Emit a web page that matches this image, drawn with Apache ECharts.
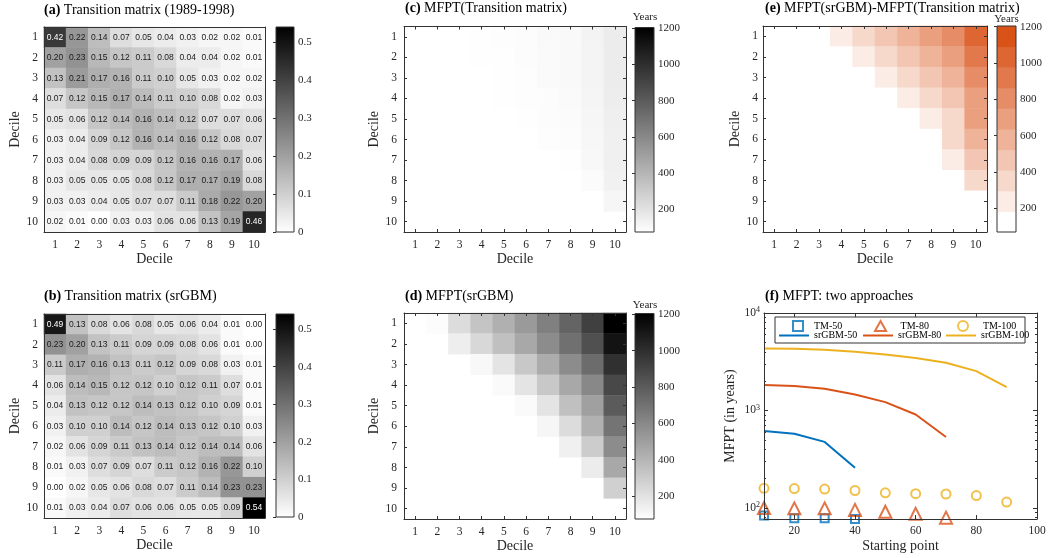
<!DOCTYPE html>
<html><head><meta charset="utf-8">
<script src="https://cdn.jsdelivr.net/npm/echarts@6/dist/echarts.min.js"></script>
<style>html,body{margin:0;padding:0;background:#fff}#c{width:1050px;height:558px}</style>
</head><body><div id="c"></div>
<script>
// ---------------- DATA ----------------
const deciles = ['1','2','3','4','5','6','7','8','9','10'];

// (a) Transition matrix (1989-1998): rows = from decile, cols = to decile
const tmHistorical = [
  [0.42,0.22,0.14,0.07,0.05,0.04,0.03,0.02,0.02,0.01],
  [0.20,0.23,0.15,0.12,0.11,0.08,0.04,0.04,0.02,0.01],
  [0.13,0.21,0.17,0.16,0.11,0.10,0.05,0.03,0.02,0.02],
  [0.07,0.12,0.15,0.17,0.14,0.11,0.10,0.08,0.02,0.03],
  [0.05,0.06,0.12,0.14,0.16,0.14,0.12,0.07,0.07,0.06],
  [0.03,0.04,0.09,0.12,0.16,0.14,0.16,0.12,0.08,0.07],
  [0.03,0.04,0.08,0.09,0.09,0.12,0.16,0.16,0.17,0.06],
  [0.03,0.05,0.05,0.05,0.08,0.12,0.17,0.17,0.19,0.08],
  [0.03,0.03,0.04,0.05,0.07,0.07,0.11,0.18,0.22,0.20],
  [0.02,0.01,0.00,0.03,0.03,0.06,0.06,0.13,0.19,0.46]
];
// (b) Transition matrix (srGBM)
const tmSrgbm = [
  [0.49,0.13,0.08,0.06,0.08,0.05,0.06,0.04,0.01,0.00],
  [0.23,0.20,0.13,0.11,0.09,0.09,0.08,0.06,0.01,0.00],
  [0.11,0.17,0.16,0.13,0.11,0.12,0.09,0.08,0.03,0.01],
  [0.06,0.14,0.15,0.12,0.12,0.10,0.12,0.11,0.07,0.01],
  [0.04,0.13,0.12,0.12,0.14,0.13,0.12,0.10,0.09,0.01],
  [0.03,0.10,0.10,0.14,0.12,0.14,0.13,0.12,0.10,0.03],
  [0.02,0.06,0.09,0.11,0.13,0.14,0.12,0.14,0.14,0.06],
  [0.01,0.03,0.07,0.09,0.07,0.11,0.12,0.16,0.22,0.10],
  [0.00,0.02,0.05,0.06,0.08,0.07,0.11,0.14,0.23,0.23],
  [0.01,0.03,0.04,0.07,0.06,0.06,0.05,0.05,0.09,0.54]
];
const _ = null;
// (c) MFPT (transition matrix), years
const mfptTM = [
  [_,74,75,77,83.5,88,98,100,125,159],
  [_,_,74,76,78.5,86,97,99,124,158],
  [_,_,_,75,78.5,84,96,99,122,156],
  [_,_,_,_,77,82,88,95.5,118,151],
  [_,_,_,_,_,78,85,91.5,114,143],
  [_,_,_,_,_,_,80,87,110,140],
  [_,_,_,_,_,_,_,79.5,106,139],
  [_,_,_,_,_,_,_,_,90,134],
  [_,_,_,_,_,_,_,_,_,115],
  [_,_,_,_,_,_,_,_,_,_]
];
// (d) MFPT (srGBM), years
const mfptSrgbm = [
  [_,85,228,335,424,521,637,761,921,1205],
  [_,_,148,246,353,459,584,708,850,1120],
  [_,_,_,104,193,317,441,584,725,992],
  [_,_,_,_,95,193,317,459,601,885],
  [_,_,_,_,_,95,193,353,495,800],
  [_,_,_,_,_,_,113,228,420,690],
  [_,_,_,_,_,_,_,140,300,584],
  [_,_,_,_,_,_,_,_,157,459],
  [_,_,_,_,_,_,_,_,_,282],
  [_,_,_,_,_,_,_,_,_,_]
];
// (e) MFPT(srGBM) - MFPT(TM), years
const mfptDiff = [
  [_,11,153,258,341,433,539,661,796,1046],
  [_,_,74,170,275,373,487,609,726,962],
  [_,_,_,29,115,233,345,485,603,836],
  [_,_,_,_,18,111,229,364,483,734],
  [_,_,_,_,_,17,108,262,381,657],
  [_,_,_,_,_,_,33,141,310,550],
  [_,_,_,_,_,_,_,61,194,445],
  [_,_,_,_,_,_,_,_,67,325],
  [_,_,_,_,_,_,_,_,_,167],
  [_,_,_,_,_,_,_,_,_,_]
];
// (f) MFPT: two approaches
const startPoints = [10,20,30,40,50,60,70,80,90];
const tm50  = [83.5,78.5,78.5,77];
const tm80  = [100,99,99,95.5,91.5,87,79.5];
const tm100 = [159,158,156,151,143,140,139,134,115];
const sr50  = [614,576,476,258];
const sr80  = [1820,1778,1670,1459,1218,909,535];
const sr100 = [4335,4305,4200,4005,3762,3450,3091,2535,1738];

// colour scale limits and tick labels
const probRange = [0, 0.54];
const probTicks = [0,0.1,0.2,0.3,0.4,0.5];
const yearRange = [73, 1205];
const diffRange = [70, 1204];
const diffBands = 10;
const yearTicks = [200,400,600,800,1000,1200];
const startTicks = [20,40,60,80,100];
const startRange = [10, 100];
const mfptRange = [77, 10000];
const logMajor = [100,1000,10000];
const logMinor = [80,90,200,300,400,500,600,700,800,900,2000,3000,4000,5000,6000,7000,8000,9000];

// ---------------- STYLE / BUILD ----------------
const SERIF = '"Liberation Serif","Times New Roman",serif';
const SANS = '"Liberation Sans",Arial,sans-serif';
const AX = '#333333';
const TXT = '#262626';
const lineStyle = {color: AX, width: 1};
const grids = [], xAxes = [], yAxes = [], series = [], titles = [], graphics = [];

function addGrid(b){ grids.push(Object.assign({}, b)); return grids.length - 1; }

function heatPanel(box, matrix, o){
  const gi = addGrid(box);
  const tick = {show: o.ticks, inside: true, alignWithLabel: true, length: 3, lineStyle};
  const xi = xAxes.length;
  xAxes.push({type:'category', gridIndex:gi, data:deciles, position:'bottom', z:10,
    axisLine:{show:true,onZero:false,lineStyle}, axisTick:tick, splitLine:{show:false},
    axisLabel:{interval:0, margin:7, color:TXT, fontFamily:SERIF, fontSize:11.5},
    name:'Decile', nameLocation:'middle', nameGap:o.xNameGap,
    nameTextStyle:{fontFamily:SERIF, fontSize:14, color:TXT}});
  xAxes.push({type:'category', gridIndex:gi, data:deciles, position:'top', z:10,
    axisLine:{show:true,onZero:false,lineStyle}, axisTick:tick, axisLabel:{show:false}, splitLine:{show:false}});
  const yi = yAxes.length;
  yAxes.push({type:'category', gridIndex:gi, data:deciles, inverse:true, position:'left', z:10,
    axisLine:{show:true,onZero:false,lineStyle}, axisTick:tick, splitLine:{show:false},
    axisLabel:{interval:0, margin:o.yMargin, color:TXT, fontFamily:SERIF, fontSize:11.5},
    name:'Decile', nameLocation:'middle', nameGap:o.yNameGap,
    nameTextStyle:{fontFamily:SERIF, fontSize:14, color:TXT}});
  yAxes.push({type:'category', gridIndex:gi, data:deciles, inverse:true, position:'right', z:10,
    axisLine:{show:true,onZero:false,lineStyle}, axisTick:tick, axisLabel:{show:false}, splitLine:{show:false}});
  const data = [];
  matrix.forEach((row, r) => row.forEach((v, c) => {
    if (v === null) return;
    const it = {value:[c, r, v]};
    if (o.labels) it.label = {color: v > 0.3 ? '#ffffff' : '#1a1a1a'};
    data.push(it);
  }));
  series.push({type:'heatmap', xAxisIndex:xi, yAxisIndex:yi, data, emphasis:{disabled:true},
    itemStyle:{borderWidth:0},
    label: o.labels ? {show:true, formatter:p => p.value[2].toFixed(2), fontFamily:SANS, fontSize:8.5} : {show:false}});
  return series.length - 1;
}

function colorbarAxes(box, lo, hi, ticks, fmt){
  const gi = addGrid(box);
  const xi = xAxes.length;
  xAxes.push({type:'value', gridIndex:gi, min:0, max:1, show:false});
  const yi = yAxes.length;
  yAxes.push({type:'value', gridIndex:gi, min:lo, max:hi, position:'right', z:10,
    axisLine:{show:false}, splitLine:{show:false},
    axisTick:{show:true, inside:true, length:3, customValues:ticks, lineStyle},
    axisLabel:{customValues:ticks, formatter:fmt, margin:4, color:TXT, fontFamily:SERIF, fontSize:11}});
  return [xi, yi];
}

function grayBar(box, range, ticks, fmt){
  const [xi, yi] = colorbarAxes(box, range[0], range[1], ticks, fmt);
  series.push({type:'custom', xAxisIndex:xi, yAxisIndex:yi, silent:true, clip:false,
    data:[[0, range[0], 1, range[1]]], encode:{x:[0,2], y:[1,3]},
    renderItem(params, api){
      const a = api.coord([api.value(0), api.value(1)]);
      const b = api.coord([api.value(2), api.value(3)]);
      return {type:'rect', shape:{x:a[0], y:b[1], width:b[0]-a[0], height:a[1]-b[1]},
        style:{fill:new echarts.graphic.LinearGradient(0,0,0,1,[{offset:0,color:'#000000'},{offset:1,color:'#ffffff'}]),
               stroke:AX, lineWidth:1}};
    }});
}

function mix(c1, c2, t){
  const p = s => [1,3,5].map(i => parseInt(s.substr(i,2),16));
  const a = p(c1), b = p(c2);
  return 'rgb(' + a.map((v,i) => Math.round(v + (b[i]-v)*t)).join(',') + ')';
}
const diffColors = [];
for (let k = 0; k < diffBands; k++) diffColors.push(mix('#ffffff', '#D95319', k/(diffBands-1)));
const diffStep = (diffRange[1] - diffRange[0]) / diffBands;
const diffEdges = [];
for (let k = 0; k <= diffBands; k++) diffEdges.push(diffRange[0] + k*diffStep);

function bandBar(box, ticks, fmt){
  const [xi, yi] = colorbarAxes(box, diffRange[0], diffRange[1], ticks, fmt);
  const data = diffColors.map((c, k) => [0, diffEdges[k], 1, diffEdges[k+1], k]);
  series.push({type:'custom', xAxisIndex:xi, yAxisIndex:yi, silent:true, clip:false,
    data, encode:{x:[0,2], y:[1,3]},
    renderItem(params, api){
      const a = api.coord([api.value(0), api.value(1)]);
      const b = api.coord([api.value(2), api.value(3)]);
      const children = [{type:'rect', shape:{x:a[0], y:b[1], width:b[0]-a[0], height:a[1]-b[1]+0.5},
        style:{fill:diffColors[api.value(4)]}}];
      if (params.dataIndex === diffBands - 1) {
        const p0 = api.coord([0, diffRange[0]]), p1 = api.coord([1, diffRange[1]]);
        children.push({type:'rect', z2:10, shape:{x:p0[0], y:p1[1], width:p1[0]-p0[0], height:p0[1]-p1[1]},
          style:{fill:'none', stroke:AX, lineWidth:1}});
      }
      return {type:'group', children};
    }});
}

function addTitle(left, top, tag, text){
  titles.push({left, top, padding:0, text:'{b|' + tag + '} ' + text,
    textStyle:{fontFamily:SERIF, fontSize:14, fontWeight:'normal', color:'#000',
      rich:{b:{fontFamily:SERIF, fontSize:14, fontWeight:'bold', color:'#000'}}}});
}
function yearsLabel(x, y){
  graphics.push({type:'text', x, y, style:{text:'Years', textAlign:'center', textVerticalAlign:'middle',
    font:'11px ' + SERIF, fill:TXT}});
}

const probFmt = v => String(v);
const yearFmt = v => String(v);

// (a)
const sA = heatPanel({left:44, top:27, width:221, height:205}, tmHistorical, {labels:true, ticks:false, xNameGap:18, yMargin:6, yNameGap:21});
grayBar({left:276, top:27, width:18, height:205}, probRange, probTicks, probFmt);
addTitle(44, 3, '(a)', 'Transition matrix (1989-1998)');
// (b)
const sB = heatPanel({left:44, top:314, width:221, height:204}, tmSrgbm, {labels:true, ticks:false, xNameGap:20, yMargin:6, yNameGap:21});
grayBar({left:276, top:314, width:18, height:203}, probRange, probTicks, probFmt);
addTitle(44, 289, '(b)', 'Transition matrix (srGBM)');
// (c)
const sC = heatPanel({left:404, top:26.5, width:222, height:205.5}, mfptTM, {labels:false, ticks:true, xNameGap:18, yMargin:7, yNameGap:21});
grayBar({left:635, top:27.5, width:19, height:204.5}, yearRange, yearTicks, yearFmt);
addTitle(405, 1.5, '(c)', 'MFPT(Transition matrix)');
yearsLabel(645, 17.5);
// (d)
const sD = heatPanel({left:404, top:313, width:222, height:206}, mfptSrgbm, {labels:false, ticks:true, xNameGap:19, yMargin:7, yNameGap:21});
grayBar({left:635, top:313.5, width:19, height:205.5}, yearRange, yearTicks, yearFmt);
addTitle(405, 289, '(d)', 'MFPT(srGBM)');
yearsLabel(645, 305);
// (e)
const sE = heatPanel({left:763, top:26, width:224, height:206}, mfptDiff, {labels:false, ticks:true, xNameGap:18, yMargin:5, yNameGap:20});
bandBar({left:997, top:26, width:19, height:206}, yearTicks, yearFmt);
addTitle(765, 1, '(e)', 'MFPT(srGBM)-MFPT(Transition matrix)');
yearsLabel(1006.5, 19.5);
// (f) title
addTitle(765, 289, '(f)', 'MFPT: two approaches');

// (f)
const fg = addGrid({left:764, top:313, width:273, height:206});
const fx = xAxes.length;
xAxes.push({type:'value', gridIndex:fg, min:startRange[0], max:startRange[1], position:'bottom', z:10,
  axisLine:{show:true,onZero:false,lineStyle}, splitLine:{show:false},
  axisTick:{show:true, inside:true, length:4, customValues:startTicks, lineStyle},
  axisLabel:{customValues:startTicks, margin:6, color:TXT, fontFamily:SERIF, fontSize:11.5},
  name:'Starting point', nameLocation:'middle', nameGap:20, nameTextStyle:{fontFamily:SERIF, fontSize:14, color:TXT}});
xAxes.push({type:'value', gridIndex:fg, min:startRange[0], max:startRange[1], position:'top', z:10,
  axisLine:{show:true,onZero:false,lineStyle}, splitLine:{show:false},
  axisTick:{show:true, inside:true, length:4, customValues:startTicks, lineStyle}, axisLabel:{show:false}});
const fy = yAxes.length;
const logBase = {type:'log', gridIndex:fg, min:mfptRange[0], max:mfptRange[1], z:10, splitLine:{show:false}, minorTick:{show:false}};
yAxes.push(Object.assign({}, logBase, {position:'left',
  axisLine:{show:true,onZero:false,lineStyle},
  axisTick:{show:true, inside:true, length:4, customValues:logMajor, lineStyle},
  axisLabel:{customValues:logMajor, margin:4, color:TXT, fontFamily:SERIF, fontSize:11.5,
    formatter:v => '10{s|' + Math.round(Math.log10(v)) + '}',
    rich:{s:{fontFamily:SERIF, fontSize:8, color:TXT, verticalAlign:'top', padding:[0,0,6,0]}}},
  name:'MFPT (in years)', nameLocation:'middle', nameGap:27, nameTextStyle:{fontFamily:SERIF, fontSize:14, color:TXT}}));
yAxes.push(Object.assign({}, logBase, {position:'left', axisLine:{show:false},
  axisTick:{show:true, inside:true, length:2, customValues:logMinor, lineStyle}, axisLabel:{show:false}}));
yAxes.push(Object.assign({}, logBase, {position:'right', axisLine:{show:true,onZero:false,lineStyle},
  axisTick:{show:true, inside:true, length:4, customValues:logMajor, lineStyle}, axisLabel:{show:false}}));
yAxes.push(Object.assign({}, logBase, {position:'right', axisLine:{show:false},
  axisTick:{show:true, inside:true, length:2, customValues:logMinor, lineStyle}, axisLabel:{show:false}}));

const BLUE = '#0072BD', RED = '#D95319', YEL = '#EDB120';
const pts = vals => vals.map((v, i) => [startPoints[i], v]);
function lineS(name, vals, color){
  series.push({name, type:'line', xAxisIndex:fx, yAxisIndex:fy, data:pts(vals), symbol:'none',
    lineStyle:{color, width:2}, itemStyle:{color}, emphasis:{disabled:true}, z:3});
}
function scatS(name, vals, color, symbol, size){
  series.push({name, type:'scatter', xAxisIndex:fx, yAxisIndex:fy, data:pts(vals), symbol, symbolSize:size, clip:false,
    itemStyle:{color:'rgba(255,255,255,0)', borderColor:color, borderWidth:2}, emphasis:{disabled:true}, z:4});
}
lineS('srGBM-50', sr50, BLUE);
lineS('srGBM-80', sr80, RED);
lineS('srGBM-100', sr100, YEL);
scatS('TM-50', tm50, BLUE, 'rect', 8);
scatS('TM-80', tm80, RED, 'triangle', 12);
scatS('TM-100', tm100, YEL, 'circle', 9);

graphics.push({type:'rect', shape:{x:775, y:317, width:250, height:26}, style:{fill:'#ffffff', stroke:AX, lineWidth:1}, z:0});
const ICON_SQUARE = 'path://M0,0L10,0L10,10L0,10Z';
const ICON_TRI = 'path://M5,0L10,9L0,9Z';
const ICON_LINE = 'path://M0,0L30,0L30,2L0,2Z';
// [name, icon, left, top, iconWidth, extra text padding]
const legendItems = [
  ['TM-50', ICON_SQUARE, 792, 320, 10, 6], ['TM-80', ICON_TRI, 874, 320, 12, 9], ['TM-100', 'circle', 957, 320, 10, 10],
  ['srGBM-50', ICON_LINE, 779, 330.5, 30, 0], ['srGBM-80', ICON_LINE, 863, 330.5, 30, 0], ['srGBM-100', ICON_LINE, 946, 330.5, 30, 0]
];
const legends = legendItems.map(([name, icon, left, top, w, pad]) => ({
  data:[{name, icon}], left, top, padding:0, itemWidth:w, itemHeight:10, itemGap:0, selectedMode:false,
  symbolKeepAspect:true, textStyle:{fontFamily:SERIF, fontSize:10, color:'#000', lineHeight:10, padding:[0,0,0,pad]}
}));

const option = {
  animation:false,
  backgroundColor:'#ffffff',
  title:titles,
  grid:grids,
  xAxis:xAxes,
  yAxis:yAxes,
  legend:legends,
  visualMap:[
    {type:'continuous', show:false, min:probRange[0], max:probRange[1], seriesIndex:[sA, sB], dimension:2,
     inRange:{color:['#ffffff','#000000']}},
    {type:'continuous', show:false, min:yearRange[0], max:yearRange[1], seriesIndex:[sC, sD], dimension:2,
     inRange:{color:['#ffffff','#000000']}},
    {type:'piecewise', show:false, seriesIndex:[sE], dimension:2,
     pieces:diffColors.map((c, k) => {
       if (k === 0) return {lt:diffEdges[1], color:c};
       if (k === diffBands-1) return {gte:diffEdges[k], color:c};
       return {gte:diffEdges[k], lt:diffEdges[k+1], color:c};
     })}
  ],
  graphic:graphics,
  series
};
const chart = echarts.init(document.getElementById('c'), null, {renderer:'canvas'});
chart.setOption(option);
</script></body></html>
